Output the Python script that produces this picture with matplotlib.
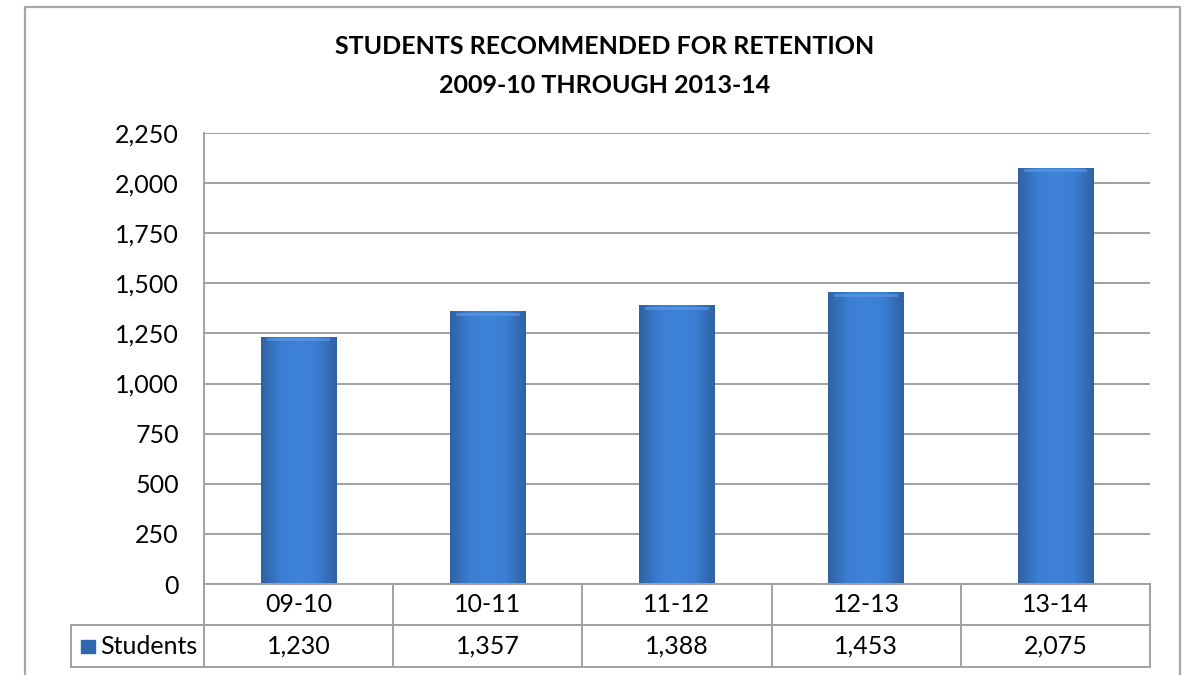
import numpy as np
import matplotlib.pyplot as plt
from matplotlib.colors import LinearSegmentedColormap
from matplotlib.transforms import blended_transform_factory
from matplotlib.patches import Rectangle

plt.rcParams['font.family'] = ['Lato', 'DejaVu Sans']

years = ['09-10', '10-11', '11-12', '12-13', '13-14']
students = [1230, 1357, 1388, 1453, 2075]
yticks = [0, 250, 500, 750, 1000, 1250, 1500, 1750, 2000, 2250]
title = 'STUDENTS RECOMMENDED FOR RETENTION\n2009-10 THROUGH 2013-14'

W, H = 1190, 675
fig = plt.figure(figsize=(W / 100, H / 100), dpi=100)

def fy(py):
    return 1 - py / H

def fx(px):
    return px / W

left, right, top, bottom = 204, 1150, 133, 584
ax = fig.add_axes([fx(left), fy(bottom), fx(right) - fx(left), fy(top) - fy(bottom)])

x = np.arange(len(years))
bars = ax.bar(x, students, width=0.40, color='#3b7dd0', zorder=2)

# horizontal gradient + bevel on each bar
grad = LinearSegmentedColormap.from_list('g', ['#2f62a3', '#3b7dd2', '#3f84da', '#3b7dd2', '#2f62a3'])
gvals = np.linspace(0, 1, 64).reshape(1, -1)
for b in bars:
    x0, w, h = b.get_x(), b.get_width(), b.get_height()
    ax.imshow(gvals, cmap=grad, aspect='auto', extent=(x0, x0 + w, 0, h), zorder=3)
    ax.add_patch(Rectangle((x0 + w * 0.08, h - 20), w * 0.84, 16, color='#5d9ee8', alpha=0.6, zorder=4, lw=0))

ax.set_xlim(-0.5, len(years) - 0.5)
ax.set_ylim(0, 2250)
ax.set_yticks(yticks)
ax.set_yticklabels([f'{v:,}' for v in yticks], fontsize=18)
ax.tick_params(axis='y', length=0, pad=18)
ax.set_xticks([])
ax.grid(axis='y', color='#a0a0a0', lw=1.4, zorder=1)
ax.set_axisbelow(True)
for s in ['top', 'right', 'bottom']:
    ax.spines[s].set_visible(False)
ax.spines['left'].set_color('#a0a0a0')
ax.spines['left'].set_linewidth(1.4)

fig.text(0.508, fy(66), title, ha='center', va='center', fontsize=18, fontweight='bold', linespacing=1.8)

# data table
lc = '#a0a0a0'
tr = blended_transform_factory(ax.transData, fig.transFigure)
r0, r1, r2 = fy(584), fy(625), fy(667)
for xb in np.arange(len(years) + 1) - 0.5:
    ax.plot([xb, xb], [r0, r2], color=lc, lw=1.4, transform=tr, clip_on=False)
fig.add_artist(plt.Line2D([fx(left), fx(right)], [r0, r0], color=lc, lw=1.4))
fig.add_artist(plt.Line2D([fx(71), fx(right)], [r1, r1], color=lc, lw=1.4))
fig.add_artist(plt.Line2D([fx(71), fx(right)], [r2, r2], color=lc, lw=1.4))
fig.add_artist(plt.Line2D([fx(71), fx(71)], [r1, r2], color=lc, lw=1.4))
for i, (yr, v) in enumerate(zip(years, students)):
    ax.text(i, (r0 + r1) / 2, yr, transform=tr, ha='center', va='center', fontsize=18)
    ax.text(i, (r1 + r2) / 2, f'{v:,}', transform=tr, ha='center', va='center', fontsize=18)
fig.add_artist(Rectangle((fx(81), fy(653)), fx(14), 13 / H, color='#2f66ad'))
fig.text(fx(100), (r1 + r2) / 2, 'Students', ha='left', va='center', fontsize=18)

# outer chart border
fig.add_artist(plt.Line2D([fx(25), fx(25), fx(1180), fx(1180)], [0, fy(7), fy(7), 0], color='#a6a6a6', lw=1.6))

fig.savefig('out.png', dpi=100)
